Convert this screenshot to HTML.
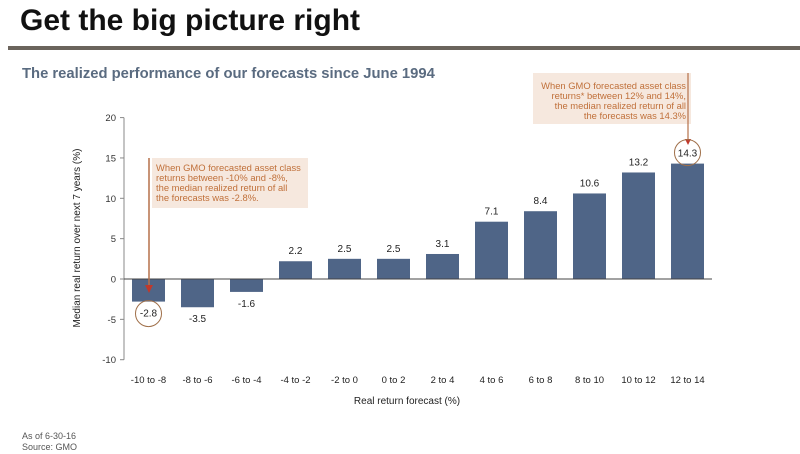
<!DOCTYPE html>
<html><head><meta charset="utf-8"><style>
body{margin:0;width:800px;height:454px;background:#fff;font-family:"Liberation Sans",sans-serif;overflow:hidden;position:relative}
</style></head><body>
<div style="position:absolute;left:20px;top:4px;font-size:30px;font-weight:bold;color:#111">Get the big picture right</div>
<div style="position:absolute;left:8px;top:46px;width:792px;height:4px;background:#6b645c"></div>
<div style="position:absolute;left:22px;top:66px;font-size:14.8px;font-weight:bold;color:#5a6b80">The realized performance of our forecasts since June 1994</div>
<div style="position:absolute;left:22px;top:431px;font-size:9px;color:#555">As of 6-30-16</div>
<div style="position:absolute;left:22px;top:442px;font-size:9px;color:#555">Source: GMO</div>
<svg id="c" width="800" height="454" style="position:absolute;left:0;top:0"></svg>
<script>
const categories=["-10 to -8","-8 to -6","-6 to -4","-4 to -2","-2 to 0","0 to 2","2 to 4","4 to 6","6 to 8","8 to 10","10 to 12","12 to 14"];
const values=[-2.8,-3.5,-1.6,2.2,2.5,2.5,3.1,7.1,8.4,10.6,13.2,14.3];
const yTicks=[20,15,10,5,0,-5,-10];
const NS="http://www.w3.org/2000/svg",svg=document.getElementById('c');
const x0=124,step=49,bw=33;
const y=v=>279-v*8.07;
const xc=i=>x0+step*(i+0.5);
function el(t,a,txt){const e=document.createElementNS(NS,t);for(const k in a)e.setAttribute(k,a[k]);if(txt!==undefined)e.textContent=txt;svg.appendChild(e);return e;}
let e=el('line',{x1:x0,y1:y(20),x2:x0,y2:y(-10),stroke:'#888'});

yTicks.forEach(t=>{
 el('line',{x1:x0-4,y1:y(t),x2:x0,y2:y(t),stroke:'#888'});
 const l=el('text',{x:x0-8,y:y(t)+3.5,'font-size':9.5,'text-anchor':'end',fill:'#333'},t);
 
});
categories.forEach((c,i)=>{
 const v=values[i];
 const r=el('rect',{x:xc(i)-bw/2,y:Math.min(y(v),y(0)),width:bw,height:Math.abs(y(v)-y(0)),fill:'#4f6587'});
 
 const ly=v>=0?y(v)-7:y(v)+15;
 const t=el('text',{x:xc(i),y:ly,'font-size':10,'text-anchor':'middle',fill:'#222'},v.toFixed(1));
 
 const xl=el('text',{x:xc(i),y:383,'font-size':9.5,'text-anchor':'middle',fill:'#222'},c);
 
});
e=el('line',{x1:x0,y1:y(0),x2:x0+step*12,y2:y(0),stroke:'#444'});

e=el('text',{x:407,y:404,'font-size':10,'text-anchor':'middle',fill:'#222'},'Real return forecast (%)');

e=el('text',{x:0,y:0,'font-size':10,'text-anchor':'middle',fill:'#222',transform:'translate(80,238) rotate(-90)'},'Median real return over next 7  years (%)');

const oc='#c0703a';
el('rect',{x:152,y:158,width:156,height:50,fill:'#f6e8de'});
el('line',{x1:149,y1:158,x2:149,y2:290,stroke:'#b5704a','stroke-width':1.5});
el('polygon',{points:'145,285 153,285 149,293',fill:'#c0392b'});
["When GMO forecasted asset class","returns between -10% and -8%,","the median realized return of all","the forecasts was -2.8%."].forEach((s,k)=>{
 el('text',{x:156,y:171+k*10,'font-size':9.4,fill:oc},s);
});
el('circle',{cx:xc(0),cy:y(values[0])+12,r:13,fill:'none',stroke:'#a0704a'});
el('rect',{x:533,y:73,width:158,height:51,fill:'#f6e8de'});
el('line',{x1:688,y1:73,x2:688,y2:143,stroke:'#b5704a','stroke-width':1.2});
el('polygon',{points:'685,139 691,139 688,145',fill:'#c0392b'});
["When GMO forecasted asset class","returns* between 12% and 14%,","the median realized return of all","the forecasts was 14.3%"].forEach((s,k)=>{
 el('text',{x:686,y:89+k*10,'font-size':9.4,fill:oc,'text-anchor':'end'},s);
});
el('circle',{cx:xc(11),cy:y(values[11])-11,r:13,fill:'none',stroke:'#a0704a'});
</script>
</body></html>
